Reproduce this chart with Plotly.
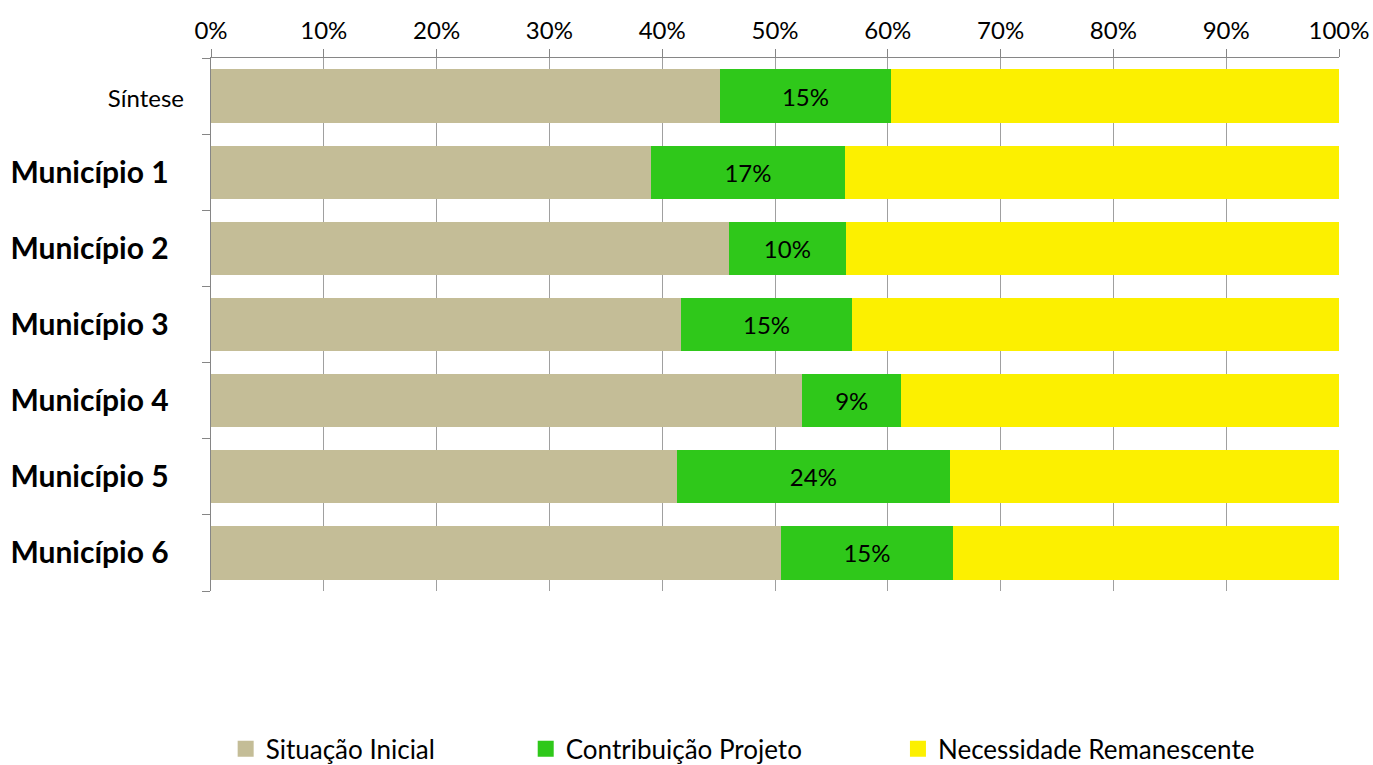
import plotly.graph_objects as go

categories = ["Síntese", "Município 1", "Município 2", "Município 3",
              "Município 4", "Município 5", "Município 6"]
situacao_inicial = [0.451, 0.390, 0.459, 0.417, 0.524, 0.413, 0.505]
contribuicao_projeto = [0.152, 0.172, 0.104, 0.151, 0.088, 0.242, 0.153]
necessidade_remanescente = [round(1 - a - b, 3) for a, b in zip(situacao_inicial, contribuicao_projeto)]

series_names = ["Situação Inicial", "Contribuição Projeto", "Necessidade Remanescente"]
colors = ["#C4BD97", "#2FC81A", "#FCF000"]

tick_text = ["<span style='font-size:24px'>Síntese</span>"] + \
    ["<b>" + c + "</b>&nbsp;&nbsp;" for c in categories[1:]]

FONT = "Lato"

fig = go.Figure()
values = [situacao_inicial, contribuicao_projeto, necessidade_remanescente]
for i, (name, vals, col) in enumerate(zip(series_names, values, colors)):
    fig.add_trace(go.Bar(
        y=categories, x=vals, orientation="h", name=name,
        marker=dict(color=col, line=dict(width=0)),
        showlegend=False,
        texttemplate="%{x:.0%}" if i == 1 else None,
        textposition="inside" if i == 1 else "none",
        insidetextanchor="middle",
        textfont=dict(family=FONT, size=24, color="#000000"),
        constraintext="none",
        hoverinfo="x+y+name",
    ))

legend_names = ["legend", "legend2", "legend3"]
for name, col, lg in zip(series_names, colors, legend_names):
    fig.add_trace(go.Scatter(
        x=[None], y=[None], mode="markers", name=name,
        marker=dict(symbol="square", size=17, color=col),
        legend=lg, showlegend=True,
    ))

legend_common = dict(orientation="h", yanchor="middle", xanchor="left", y=-0.296,
                     font=dict(family=FONT, size=26, color="#000000"),
                     bgcolor="rgba(0,0,0,0)", itemwidth=30)

fig.update_layout(
    width=1373, height=765,
    barmode="stack", bargap=0.30,
    plot_bgcolor="white", paper_bgcolor="white",
    margin=dict(l=211, r=34, t=58, b=174, autoexpand=False),
    font=dict(family=FONT, size=24, color="#000000"),
    legend=dict(x=0.013, **legend_common),
    legend2=dict(x=0.279, **legend_common),
    legend3=dict(x=0.609, **legend_common),
    xaxis=dict(
        side="top", range=[0, 1], tickformat=".0%", dtick=0.1, tick0=0,
        showgrid=True, gridcolor="#A0A0A0", gridwidth=1,
        showline=True, linecolor="#868686", linewidth=1,
        ticks="outside", ticklen=8, tickcolor="#868686",
        tickfont=dict(family=FONT, size=24, color="#000000"),
        zeroline=False, fixedrange=True,
    ),
    yaxis=dict(
        type="category", categoryorder="array", categoryarray=categories,
        tickvals=categories, ticktext=tick_text,
        autorange="reversed",
        showline=True, linecolor="#868686", linewidth=1,
        ticks="outside", ticklen=8, tickcolor="#868686", tickson="boundaries",
        tickfont=dict(family=FONT, size=30, color="#000000"),
        ticklabelstandoff=20,
        showgrid=False, zeroline=False, fixedrange=True,
    ),
)

fig.write_html("out.html", config={"displayModeBar": False},
               post_script="document.body.style.margin='0';")
